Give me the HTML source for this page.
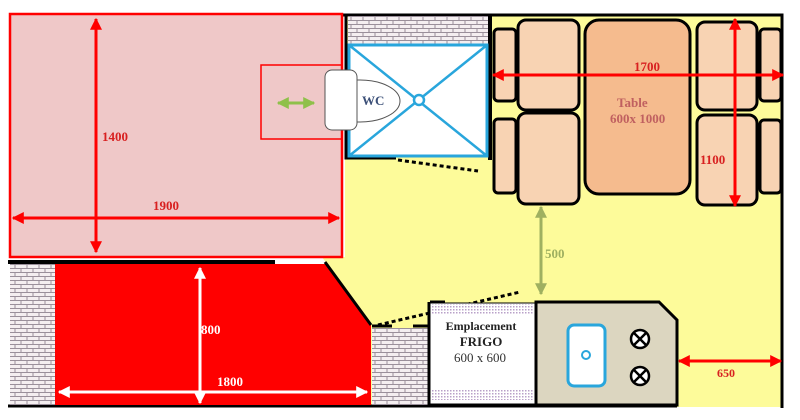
<!DOCTYPE html>
<html><head><meta charset="utf-8"><style>html,body{margin:0;padding:0;background:#fff}svg{display:block}</style></head><body>
<svg width="800" height="420" viewBox="0 0 800 420" xmlns="http://www.w3.org/2000/svg" font-family="Liberation Serif, serif" font-weight="bold">
<defs>
<pattern id="brick" width="12" height="8" patternUnits="userSpaceOnUse">
<rect width="12" height="8" fill="#f4eef0"/>
<path d="M0 0.5H12M0 4.5H12M3 0V4M9 4V8" stroke="#9a8f9a" stroke-width="1" fill="none"/>
</pattern>
<pattern id="dots" width="3" height="3" patternUnits="userSpaceOnUse"><rect width="3" height="3" fill="#fff"/><rect width="1.5" height="1.5" fill="#b8a0c8"/></pattern>
<marker id="ar" viewBox="0 0 10 10" refX="9" refY="5" markerWidth="4" markerHeight="4" orient="auto-start-reverse"><path d="M0 0L10 5L0 10z" fill="red"/></marker>
<marker id="aw" viewBox="0 0 10 10" refX="9" refY="5" markerWidth="4" markerHeight="4" orient="auto-start-reverse"><path d="M0 0L10 5L0 10z" fill="#fff"/></marker>
<marker id="ag" viewBox="0 0 10 10" refX="9" refY="5" markerWidth="4" markerHeight="4" orient="auto-start-reverse"><path d="M0 0L10 5L0 10z" fill="#8fc04a"/></marker>
<marker id="ao" viewBox="0 0 10 10" refX="9" refY="5" markerWidth="4" markerHeight="4" orient="auto-start-reverse"><path d="M0 0L10 5L0 10z" fill="#9fb060"/></marker>
</defs>
<!-- yellow floor -->
<rect x="345" y="15" width="437" height="392" fill="#fdfb9a"/>
<path d="M322 257H346V326H371Z" fill="#fdfb9a"/>
<!-- outer walls -->
<path d="M340 15H782V408" stroke="#000" stroke-width="3" fill="none"/>
<path d="M8 406H677" stroke="#000" stroke-width="3"/>
<!-- bed -->
<rect x="10" y="14" width="332" height="243" fill="#efc8c8" stroke="red" stroke-width="2.5"/>
<line x1="96" y1="19" x2="96" y2="252" stroke="red" stroke-width="3" marker-start="url(#ar)" marker-end="url(#ar)"/>
<line x1="13" y1="218" x2="339" y2="218" stroke="red" stroke-width="3" marker-start="url(#ar)" marker-end="url(#ar)"/>
<text x="102" y="141" fill="#d82020" font-size="13">1400</text>
<text x="153" y="210" fill="#d82020" font-size="13">1900</text>
<rect x="261" y="65" width="81" height="74" fill="none" stroke="red" stroke-width="1.5"/>
<line x1="278" y1="103" x2="314" y2="103" stroke="#8fc04a" stroke-width="3" marker-start="url(#ag)" marker-end="url(#ag)"/>
<!-- shower / wc -->
<rect x="348" y="16" width="140" height="28" fill="url(#brick)"/>
<path d="M346 15V158H396" stroke="#000" stroke-width="3" fill="none"/>
<line x1="490" y1="15" x2="490" y2="160" stroke="#000" stroke-width="4"/>
<rect x="349" y="45" width="138" height="111" fill="#fff" stroke="#29a6dc" stroke-width="3"/>
<path d="M349 45L487 156M487 45L349 156" stroke="#29a6dc" stroke-width="2.5"/>
<circle cx="419" cy="100" r="5" fill="#fff" stroke="#29a6dc" stroke-width="2.5"/>
<path d="M350 80H360A40 21 0 0 1 360 122H350Z" fill="#fff" stroke="#555" stroke-width="1"/>
<rect x="325" y="70" width="32" height="60" rx="7" fill="#fff" stroke="#555" stroke-width="1"/>
<text x="362" y="105" fill="#3c5078" font-size="13">WC</text>
<line x1="398" y1="160" x2="478" y2="171" stroke="#000" stroke-width="3" stroke-dasharray="4,3"/>
<!-- dinette -->
<g fill="#f8d3b3" stroke="#000" stroke-width="3">
<rect x="494" y="29" width="22" height="72" rx="4"/>
<rect x="494" y="119" width="22" height="74" rx="4"/>
<rect x="518" y="20" width="61" height="90" rx="8"/>
<rect x="518" y="113" width="61" height="91" rx="8"/>
<rect x="697" y="22" width="60" height="88" rx="8"/>
<rect x="697" y="115" width="60" height="90" rx="8"/>
<rect x="760" y="29" width="21" height="72" rx="4"/>
<rect x="760" y="120" width="21" height="73" rx="4"/>
<rect x="585" y="20" width="105" height="174" rx="14" fill="#f5bb8e"/>
</g>
<line x1="493" y1="75" x2="783" y2="75" stroke="red" stroke-width="3" marker-start="url(#ar)" marker-end="url(#ar)"/>
<line x1="735" y1="19" x2="735" y2="206" stroke="red" stroke-width="3" marker-start="url(#ar)" marker-end="url(#ar)"/>
<text x="634" y="71" fill="#d82020" font-size="13">1700</text>
<text x="700" y="164" fill="#d82020" font-size="13">1100</text>
<text x="617" y="107" fill="#c06060" font-size="13">Table</text>
<text x="610" y="123" fill="#c06060" font-size="13">600x 1000</text>
<line x1="541" y1="207" x2="541" y2="294" stroke="#9fb060" stroke-width="3" marker-start="url(#ao)" marker-end="url(#ao)"/>
<text x="545" y="258" fill="#9fb060" font-size="13">500</text>
<!-- bottom left -->
<path d="M8 262H275" stroke="#000" stroke-width="4"/>
<rect x="10" y="264" width="45" height="141" fill="url(#brick)"/>
<path d="M55 264H327L371 325V405H55Z" fill="#ff0000"/>
<path d="M325 262L371 325" stroke="#000" stroke-width="3"/>
<line x1="200" y1="268" x2="200" y2="403" stroke="#fff" stroke-width="3" marker-start="url(#aw)" marker-end="url(#aw)"/>
<line x1="59" y1="392" x2="367" y2="392" stroke="#fff" stroke-width="3" marker-start="url(#aw)" marker-end="url(#aw)"/>
<text x="201" y="334" fill="#fff" font-size="13">800</text>
<text x="217" y="386" fill="#fff" font-size="13">1800</text>
<!-- kitchen -->
<rect x="372" y="328" width="56" height="77" fill="url(#brick)"/>
<path d="M372 326H392M413 326H428" stroke="#000" stroke-width="3"/>
<line x1="378" y1="325" x2="520" y2="292" stroke="#000" stroke-width="3" stroke-dasharray="4,3"/>
<rect x="430" y="303" width="105" height="101" fill="#fff" stroke="#000" stroke-width="1"/>
<rect x="431" y="304" width="103" height="10" fill="url(#dots)"/>
<rect x="431" y="390" width="103" height="10" fill="url(#dots)"/>
<path d="M429 302V405M430 302H445" stroke="#000" stroke-width="3"/>
<text x="481" y="330" fill="#222" font-size="12" text-anchor="middle">Emplacement</text>
<text x="481" y="346" fill="#222" font-size="13" text-anchor="middle">FRIGO</text>
<text x="480" y="362" fill="#333" font-size="13" font-weight="normal" text-anchor="middle">600 x 600</text>
<path d="M536 302H659L677 320V405H536Z" fill="#dcd6c0" stroke="#000" stroke-width="3"/>
<rect x="568" y="325" width="37" height="61" rx="6" fill="#fff" stroke="#29a6dc" stroke-width="3"/>
<circle cx="586" cy="355" r="4" fill="#fff" stroke="#29a6dc" stroke-width="2"/>
<g stroke="#000" stroke-width="2.5" fill="#fff">
<circle cx="640" cy="339" r="9"/><path d="M634 333L646 345M646 333L634 345"/>
<circle cx="640" cy="376" r="9"/><path d="M634 370L646 382M646 370L634 382"/>
</g>
<line x1="679" y1="361" x2="781" y2="361" stroke="red" stroke-width="3" marker-start="url(#ar)" marker-end="url(#ar)"/>
<text x="717" y="377" fill="#d82020" font-size="12">650</text>
</svg>
</body></html>
